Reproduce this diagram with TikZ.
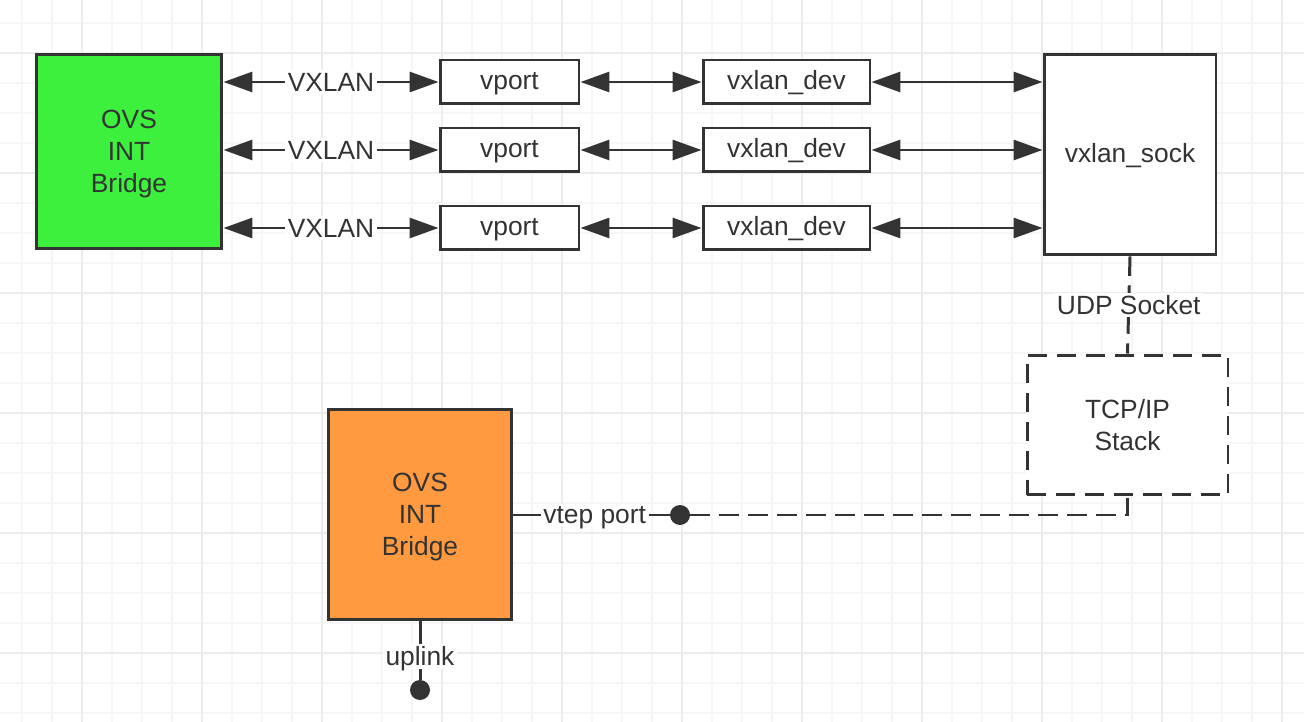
\documentclass[tikz,border=0pt]{standalone}
\usepackage{fontspec}
\setmainfont{Liberation Sans}
\usepackage{tikz}
\usetikzlibrary{arrows.meta}
\usetikzlibrary{positioning}
\definecolor{ovsgreen}{RGB}{61,240,61}
\definecolor{ovsorange}{RGB}{255,154,64}
\definecolor{inkgray}{RGB}{51,51,51}
\definecolor{gridminor}{RGB}{246,246,246}
\definecolor{gridmajor}{RGB}{236,236,236}
\tikzstyle{bridge} = [rectangle, draw=inkgray, line width=1.7pt, 
    minimum width=3.72cm, minimum height=3.9cm, align=center, inner sep=0pt]
\tikzstyle{port} = [rectangle, draw=inkgray, fill=white, line width=1.7pt, 
    minimum height=0.88cm, inner sep=0pt, text height=0.9em]
\tikzstyle{line} = [draw=inkgray, line width=1.7pt, 
    {Triangle[length=0.58cm,width=0.4cm]}-{Triangle[length=0.58cm,width=0.4cm]}]
\tikzstyle{dashline} = [draw=inkgray, line width=1.7pt, dash pattern=on 11pt off 5.5pt]
\tikzstyle{tag} = [fill=white, inner sep=1.5pt]
\tikzstyle{dot} = [circle, fill=inkgray, minimum size=0.4cm, inner sep=0pt]

\begin{document}
\begin{tikzpicture}[x=0.02cm,y=-0.02cm,font=\fontsize{15}{18.2}\selectfont,text=inkgray,
    every node/.append style={text depth=0pt}]
    \useasboundingbox[fill=white] (0,0) rectangle (1304,722);
    % Grid
    \foreach \gx in {22,52,...,1302} \draw[gridminor, line width=1pt] (\gx,0) -- (\gx,722);
    \foreach \gy in {23,53,...,713} \draw[gridminor, line width=1pt] (0,\gy) -- (1304,\gy);
    \foreach \gx in {82,202,...,1282} \draw[gridmajor, line width=1pt] (\gx,0) -- (\gx,722);
    \foreach \gy in {53,173,...,653} \draw[gridmajor, line width=1pt] (0,\gy) -- (1304,\gy);
    % Place nodes
    \node [bridge, fill=ovsgreen] (intg) at (129,151.5) {OVS\\INT\\Bridge};
    \node [port, minimum width=2.78cm] (vp1) at (509.5,82) {vport};
    \node [port, minimum width=2.78cm] (vp2) at (509.5,150) {vport};
    \node [port, minimum width=2.78cm] (vp3) at (509.5,228) {vport};
    \node [port, minimum width=3.34cm] (vd1) at (786.5,82) {vxlan\_dev};
    \node [port, minimum width=3.34cm] (vd2) at (786.5,150) {vxlan\_dev};
    \node [port, minimum width=3.34cm] (vd3) at (786.5,228) {vxlan\_dev};
    \node [port, minimum width=3.44cm, minimum height=4.02cm] (sock) at (1130,154.5) {vxlan\_sock};
    \node [bridge, fill=white, dash pattern=on 11pt off 5.5pt, minimum width=4.02cm, 
        minimum height=2.8cm] (stack) at (1127.5,425) {TCP/IP\\Stack};
    \node [bridge, fill=ovsorange, minimum width=3.68cm, minimum height=4.22cm] (intb) at (420,514.5) {OVS\\INT\\Bridge};
    \node [dot] (vtep) at (680,515) {};
    \node [dot] (uplink) at (420,690) {};
    % Draw edges
    \path [line] (intg.east |- vp1) -- node[tag] {VXLAN} (vp1.west);
    \path [line] (intg.east |- vp2) -- node[tag] {VXLAN} (vp2.west);
    \path [line] (intg.east |- vp3) -- node[tag] {VXLAN} (vp3.west);
    \path [line] (vp1.east) -- (vd1.west);
    \path [line] (vp2.east) -- (vd2.west);
    \path [line] (vp3.east) -- (vd3.west);
    \path [line] (vd1.east) -- (vd1.east -| sock.west);
    \path [line] (vd2.east) -- (vd2.east -| sock.west);
    \path [line] (vd3.east) -- (vd3.east -| sock.west);
    \path [dashline] (sock.south) -- node[tag] {UDP Socket} (stack.north);
    \path [dashline] (vtep) -| (stack.south);
    \draw [inkgray, line width=1.7pt] (intb.east |- vtep) -- node[tag, pos=0.52] {vtep port} (vtep);
    \draw [inkgray, line width=1.7pt] (intb.south) -- node[tag, pos=0.6] {uplink} (uplink);
\end{tikzpicture}
\end{document}
